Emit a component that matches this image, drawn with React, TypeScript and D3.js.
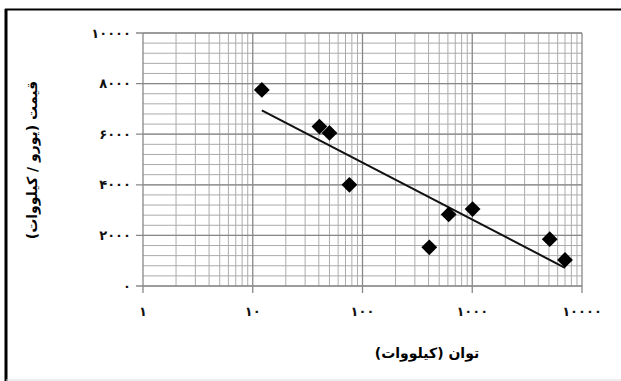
import React from "react";
import * as d3 from "d3";

// power (kW) vs price (EUR / kW)
const powerKw = [12.1, 40.5, 50, 76, 406, 610, 1007, 5080, 7000];
const priceEur = [7750, 6300, 6050, 4000, 1530, 2830, 3040, 1850, 1030];

const xTicks = [1, 10, 100, 1000, 10000];
const yTicks = [0, 2000, 4000, 6000, 8000, 10000];
const yMinorStep = 400;

const xTitle = "توان (کیلووات)";
const yTitle = "قیمت (یورو / کیلووات)";

const toFa = (n: number) =>
  String(n).replace(/\d/g, (d) => "۰۱۲۳۴۵۶۷۸۹"[+d]);

export default function App() {
  const width = 621;
  const height = 381;
  const x = d3.scaleLog().domain([1, 10000]).range([143, 582]);
  const y = d3.scaleLinear().domain([0, 10000]).range([286, 33]);

  // vertical log grid: 2..9 in every decade
  const xMinor: number[] = [];
  for (let e = 0; e < 4; e++) {
    for (let m = 2; m <= 9; m++) xMinor.push(m * Math.pow(10, e));
  }
  const yMinor = d3.range(0, 10000 + 1, yMinorStep);

  // log trendline, least squares on log10(x)
  const lx = powerKw.map(Math.log10);
  const mx = d3.mean(lx)!;
  const my = d3.mean(priceEur)!;
  const slope =
    d3.sum(lx, (v, i) => (v - mx) * (priceEur[i] - my)) /
    d3.sum(lx, (v) => (v - mx) ** 2);
  const fit = (p: number) => my + slope * (Math.log10(p) - mx);
  const [xMin, xMax] = d3.extent(powerKw) as [number, number];
  const trend = d3
    .line<number>()
    .x((p) => x(p))
    .y((p) => y(fit(p)))([xMin, xMax]);

  const diamond = d3.symbol(d3.symbolSquare, 125)()!;
  const font = "'DejaVu Sans', sans-serif";

  return (
    <>
      <style>{`body{margin:0}`}</style>
      <svg width={width} height={height} style={{ display: "block", background: "#fff" }}>
        {/* outer frame */}
        <line x1={5} x2={width} y1={9.5} y2={9.5} stroke="#000" strokeWidth={2} />
        <line x1={6} x2={6} y1={9} y2={height} stroke="#000" strokeWidth={3} />
        <line x1={6} x2={width} y1={380} y2={380} stroke="#ddd" />

        {/* grid */}
        <g stroke="#ababab" strokeWidth={1}>
          {yMinor.map((v) => (
            <line key={"hy" + v} x1={x(1)} x2={x(10000)} y1={y(v)} y2={y(v)} />
          ))}
          {xMinor.map((v) => (
            <line key={"vx" + v} x1={x(v)} x2={x(v)} y1={y(0)} y2={y(10000)} />
          ))}
        </g>
        <g stroke="#888" strokeWidth={1.3}>
          {yTicks.map((v) => (
            <line key={"my" + v} x1={x(1) - 7} x2={x(10000)} y1={y(v)} y2={y(v)} />
          ))}
          {xTicks.map((v) => (
            <line key={"mx" + v} x1={x(v)} x2={x(v)} y1={y(10000)} y2={y(0) + 7} />
          ))}
        </g>

        {/* tick labels */}
        <g fontFamily={font} fontSize={13} fontWeight="bold" fill="#111">
          {yTicks.map((v) => (
            <text key={"ty" + v} x={x(1) - 12} y={y(v)} dy="0.35em" textAnchor="end">
              {toFa(v)}
            </text>
          ))}
          {xTicks.map((v) => (
            <text key={"tx" + v} x={x(v)} y={y(0) + 30} textAnchor="middle">
              {toFa(v)}
            </text>
          ))}
        </g>

        {/* trendline */}
        <path d={trend ?? ""} fill="none" stroke="#111" strokeWidth={2} />

        {/* points */}
        {powerKw.map((p, i) => (
          <path
            key={i}
            d={diamond}
            transform={`translate(${x(p)},${y(priceEur[i])}) rotate(45)`}
            fill="#000"
          />
        ))}

        {/* axis titles */}
        <text
          x={427}
          y={358}
          textAnchor="middle"
          fontFamily={font}
          fontSize={14}
          fontWeight="bold"
          direction="rtl"
        >
          {xTitle}
        </text>
        <text
          transform="translate(37,160) rotate(-90)"
          textAnchor="middle"
          fontFamily={font}
          fontSize={14}
          fontWeight="bold"
          direction="rtl"
        >
          {yTitle}
        </text>
      </svg>
    </>
  );
}
